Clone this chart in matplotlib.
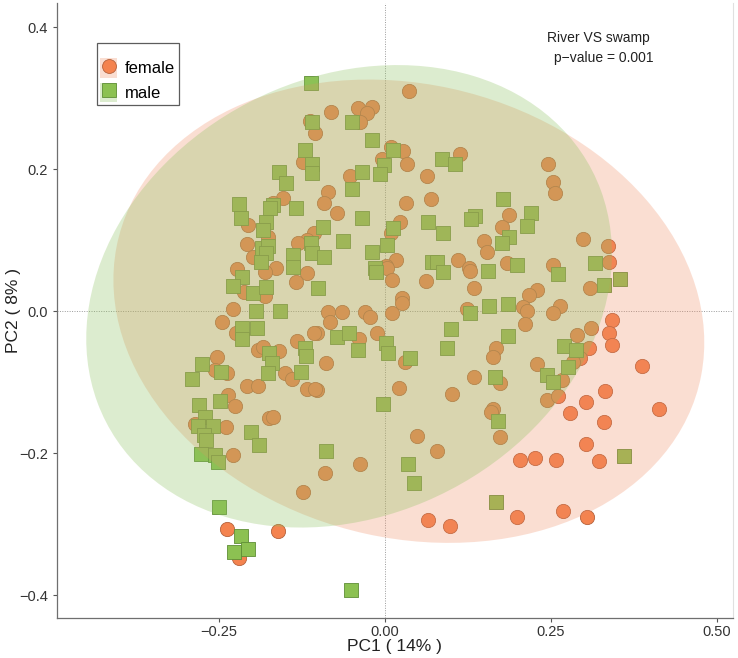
import matplotlib
matplotlib.use("Agg")
import matplotlib.pyplot as plt
from matplotlib.patches import Ellipse, Patch
from matplotlib.lines import Line2D
from matplotlib.legend_handler import HandlerTuple

plt.rcParams['font.family'] = ['Liberation Sans', 'DejaVu Sans']

groups = ["female", "male"]

female_pc1 = [0.036, -0.081, -0.041, -0.020, -0.027, -0.038, -0.113, -0.105, -0.123, 0.009,
              0.027, 0.033, -0.005, -0.053, -0.086, -0.092, -0.072, 0.063, 0.069, 0.032,
              0.113, 0.023, 0.009, 0.017, 0.002, 0.110, 0.245, 0.253, 0.256, 0.187,
              0.176, 0.149, 0.154, 0.298, 0.336, 0.337, 0.253, 0.184, 0.127, -0.154,
              -0.169, -0.206, -0.176, -0.208, -0.199, -0.107, -0.117, -0.131, -0.164, -0.117,
              -0.134, -0.223, -0.212, -0.181, -0.181, -0.229, -0.245, -0.224, -0.086, -0.065,
              -0.083, -0.030, -0.023, 0.011, -0.102, -0.039, -0.012, 0.026, 0.026, 0.003,
              0.011, 0.062, 0.030, -0.089, -0.102, 0.021, 0.101, 0.048, 0.078, -0.038,
              -0.090, -0.123, -0.133, -0.107, -0.191, -0.184, -0.160, -0.151, -0.140, -0.117,
              -0.105, -0.253, -0.256, -0.238, -0.208, -0.191, -0.236, -0.226, -0.286, -0.239,
              -0.175, -0.169, -0.229, -0.238, -0.220, -0.161, 0.128, 0.134, 0.229, 0.217,
              0.208, 0.214, 0.264, 0.253, 0.123, 0.211, 0.309, 0.167, 0.163, 0.342,
              0.337, 0.342, 0.310, 0.289, 0.307, 0.294, 0.283, 0.229, 0.267, 0.134,
              0.173, 0.244, 0.261, 0.331, 0.303, 0.279, 0.330, 0.163, 0.160, 0.173,
              0.303, 0.203, 0.226, 0.258, 0.322, 0.387, 0.413, 0.065, 0.098, 0.199,
              0.268, 0.304]
female_pc2 = [0.310, 0.280, 0.286, 0.287, 0.279, 0.266, 0.268, 0.251, 0.210, 0.231,
              0.225, 0.207, 0.215, 0.190, 0.168, 0.153, 0.138, 0.190, 0.158, 0.152,
              0.221, 0.125, 0.110, 0.072, 0.063, 0.072, 0.208, 0.182, 0.166, 0.135,
              0.118, 0.099, 0.084, 0.101, 0.092, 0.069, 0.065, 0.068, 0.061, 0.159,
              0.152, 0.122, 0.104, 0.094, 0.077, 0.110, 0.100, 0.096, 0.061, 0.054,
              0.041, 0.059, 0.027, 0.021, 0.055, 0.003, -0.015, -0.030, -0.001, -0.001,
              -0.015, -0.001, -0.008, -0.003, -0.031, -0.039, -0.031, 0.018, 0.011, 0.061,
              0.044, 0.042, -0.072, -0.073, -0.111, -0.108, -0.117, -0.176, -0.197, -0.215,
              -0.228, -0.255, -0.042, -0.031, -0.054, -0.051, -0.056, -0.087, -0.096, -0.110,
              -0.110, -0.065, -0.083, -0.087, -0.106, -0.106, -0.118, -0.134, -0.159, -0.163,
              -0.151, -0.149, -0.203, -0.307, -0.348, -0.310, 0.056, 0.032, 0.030, 0.023,
              0.006, 0.001, 0.008, -0.003, 0.003, -0.018, 0.032, -0.052, -0.065, -0.013,
              -0.030, -0.048, -0.024, -0.034, -0.052, -0.066, -0.072, -0.075, -0.097, -0.093,
              -0.101, -0.125, -0.120, -0.113, -0.128, -0.144, -0.156, -0.138, -0.142, -0.177,
              -0.187, -0.210, -0.206, -0.210, -0.211, -0.077, -0.137, -0.294, -0.303, -0.290,
              -0.282, -0.290]

male_pc1 = [-0.111, -0.110, -0.050, -0.120, -0.110, -0.110, -0.160, -0.149, -0.169, -0.173,
            -0.134, -0.220, -0.217, -0.179, -0.184, -0.185, -0.176, -0.179, -0.187, -0.111,
            -0.110, -0.093, -0.063, -0.092, -0.139, -0.139, -0.215, -0.229, -0.194, -0.158,
            -0.101, -0.035, -0.035, -0.050, -0.020, 0.012, -0.002, -0.008, 0.086, 0.105,
            0.012, 0.065, 0.087, -0.020, 0.003, -0.015, 0.071, 0.078, 0.178, 0.220,
            0.214, 0.136, 0.130, 0.187, 0.176, 0.316, 0.199, 0.155, 0.261, 0.330,
            0.354, 0.128, 0.157, 0.185, 0.185, 0.270, 0.288, 0.276, 0.244, 0.253,
            0.166, 0.170, 0.360, 0.167, 0.035, 0.044, -0.003, 0.099, 0.093, 0.002,
            0.005, 0.038, -0.014, 0.087, -0.072, -0.054, -0.041, -0.089, -0.199, -0.179,
            -0.215, -0.215, -0.193, -0.120, -0.119, -0.175, -0.170, -0.176, -0.276, -0.247,
            -0.291, -0.127, -0.248, -0.280, -0.271, -0.282, -0.259, -0.273, -0.270, -0.202,
            -0.190, -0.277, -0.256, -0.251, -0.250, -0.217, -0.227, -0.206, -0.051]
male_pc2 = [0.321, 0.266, 0.266, 0.227, 0.208, 0.194, 0.196, 0.180, 0.149, 0.146,
            0.145, 0.151, 0.131, 0.125, 0.114, 0.089, 0.092, 0.082, 0.070, 0.096,
            0.082, 0.118, 0.099, 0.077, 0.079, 0.062, 0.048, 0.035, 0.001, 0.000,
            0.032, 0.131, 0.196, 0.172, 0.241, 0.227, 0.206, 0.193, 0.215, 0.207,
            0.117, 0.125, 0.110, 0.083, 0.093, 0.061, 0.070, 0.070, 0.158, 0.138,
            0.120, 0.134, 0.130, 0.104, 0.096, 0.068, 0.065, 0.056, 0.052, 0.037,
            0.046, -0.003, 0.007, 0.010, -0.035, -0.049, -0.054, -0.079, -0.090, -0.100,
            -0.092, -0.155, -0.204, -0.269, -0.215, -0.242, -0.131, -0.025, -0.052, -0.045,
            -0.059, -0.066, 0.055, 0.055, -0.037, -0.031, -0.054, -0.197, 0.025, 0.034,
            -0.024, -0.039, -0.023, -0.052, -0.063, -0.059, -0.073, -0.087, -0.075, -0.086,
            -0.096, -0.086, -0.127, -0.132, -0.149, -0.161, -0.162, -0.175, -0.182, -0.170,
            -0.189, -0.201, -0.203, -0.213, -0.276, -0.317, -0.339, -0.335, -0.393]

# confidence ellipses (center x, center y, width, height, angle)
female_ellipse = (0.036, 0.000, 0.899, 0.640, -11.6)
male_ellipse = (-0.054, 0.021, 0.815, 0.622, 21.5)

x_ticks = [-0.25, 0.00, 0.25, 0.50]
x_ticklabels = ["\u22120.25", "0.00", "0.25", "0.50"]
y_ticks = [-0.4, -0.2, 0.0, 0.2, 0.4]
y_ticklabels = ["\u22120.4", "\u22120.2", "0.0", "0.2", "0.4"]

female_color = "#F4834F"
female_edge = "#B5623C"
male_color = "#8CC152"
male_edge = "#5F8E36"
female_fill = "#F08A60"
male_fill = "#8DC260"

fig = plt.figure(figsize=(7.38, 6.58), dpi=100)
ax = fig.add_axes([0.0772, 0.0608, 0.9158, 0.9346])

ax.axhline(0, color="#9a9a9a", lw=0.7, ls=(0, (1, 1.5)), zorder=1)
ax.axvline(0, color="#9a9a9a", lw=0.7, ls=(0, (1, 1.5)), zorder=1)

ax.scatter(female_pc1, female_pc2, s=105, marker="o", facecolor=female_color,
           edgecolor=female_edge, linewidth=0.6, zorder=2)
ax.scatter(male_pc1, male_pc2, s=95, marker="s", facecolor=male_color,
           edgecolor=male_edge, linewidth=0.6, zorder=2)

cx, cy, w, h, ang = female_ellipse
ax.add_patch(Ellipse((cx, cy), w, h, angle=ang, facecolor=female_fill,
                     alpha=0.28, edgecolor="none", zorder=3))
cx, cy, w, h, ang = male_ellipse
ax.add_patch(Ellipse((cx, cy), w, h, angle=ang, facecolor=male_fill,
                     alpha=0.30, edgecolor="none", zorder=3))

ax.set_xlim(-0.494, 0.524)
ax.set_ylim(-0.432, 0.434)
ax.set_xticks(x_ticks)
ax.set_xticklabels(x_ticklabels)
ax.set_yticks(y_ticks)
ax.set_yticklabels(y_ticklabels)
ax.tick_params(axis="both", labelsize=10.5, colors="#555555", labelcolor="#333333",
               length=3, width=0.8)
ax.tick_params(axis="x", pad=2)

ax.spines["top"].set_visible(False)
ax.spines["right"].set_color("#e0e0e0")
ax.spines["right"].set_linewidth(0.8)
for side in ["left", "bottom"]:
    ax.spines[side].set_color("#6f6f6f")
    ax.spines[side].set_linewidth(0.9)

ax.set_xlabel("PC1 ( 14% )", fontsize=12.5, color="#222222", labelpad=0)
ax.set_ylabel("PC2 ( 8% )", fontsize=12.5, color="#222222")
ax.yaxis.set_label_coords(-0.053, 0.5)

ax.text(0.244, 0.385, "River VS swamp", fontsize=10, color="#222222", va="center", ha="left")
ax.text(0.255, 0.356, "p\u2212value = 0.001", fontsize=10, color="#222222", va="center", ha="left")

handles = [
    (Patch(facecolor=female_fill, alpha=0.28, edgecolor="none"),
     Line2D([], [], marker="o", ls="none", markersize=10, markerfacecolor=female_color,
            markeredgecolor=female_edge, markeredgewidth=0.6)),
    (Patch(facecolor=male_fill, alpha=0.30, edgecolor="none"),
     Line2D([], [], marker="s", ls="none", markersize=9.5, markerfacecolor=male_color,
            markeredgecolor=male_edge, markeredgewidth=0.6)),
]
leg = ax.legend(handles, groups, handler_map={tuple: HandlerTuple(ndivide=1, pad=0)},
                loc="upper left", bbox_to_anchor=(0.059, 0.935), borderaxespad=0,
                fontsize=12, frameon=True, fancybox=False, handlelength=1.0,
                handleheight=1.4, handletextpad=0.5, labelspacing=0.3,
                borderpad=0.2, title=" ", title_fontsize=6)
leg.get_frame().set_edgecolor("#333333")
leg.get_frame().set_linewidth(0.9)

fig.savefig("out.png", dpi=100)
